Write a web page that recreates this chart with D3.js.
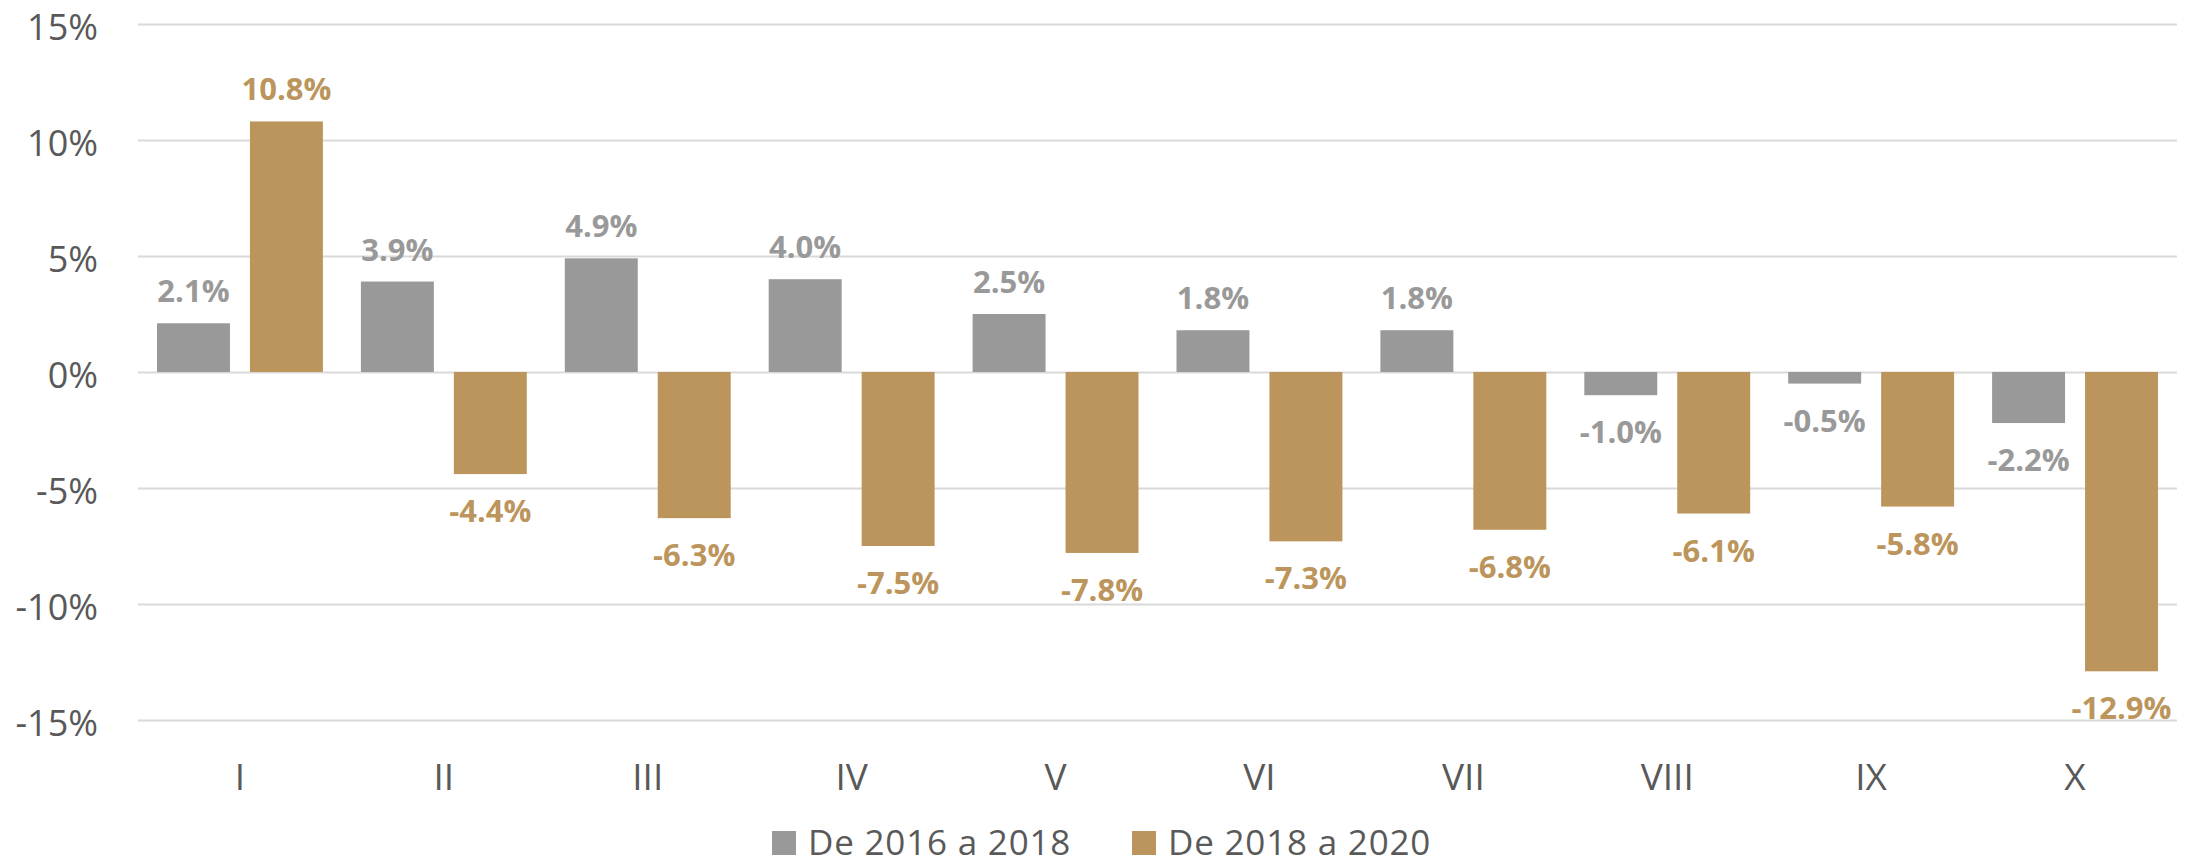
<!DOCTYPE html>
<html>
<head>
<meta charset="utf-8">
<script src="https://cdn.jsdelivr.net/npm/d3@7"></script>
<style>
  body { margin: 0; background: #fff; }
  svg { display: block; font-family: "Open Sans", sans-serif; }
</style>
</head>
<body>
<svg id="svg" width="2195" height="867"></svg>
<script>
var categories = ["I", "II", "III", "IV", "V", "VI", "VII", "VIII", "IX", "X"];
var seriesNames = ["De 2016 a 2018", "De 2018 a 2020"];
var values2016 = [2.1, 3.9, 4.9, 4.0, 2.5, 1.8, 1.8, -1.0, -0.5, -2.2];
var values2018 = [10.8, -4.4, -6.3, -7.5, -7.8, -7.3, -6.8, -6.1, -5.8, -12.9];
var yTicks = [-15, -10, -5, 0, 5, 10, 15];

var colors = ["#999999", "#bc955c"];

var svg = d3.select("#svg");
var plot = {left: 138, right: 2177, top: 24, bottom: 720};

var data = categories.map(function(c, i) {
  return {cat: c, vals: [values2016[i], values2018[i]]};
});

var yScale = d3.scaleLinear()
  .domain([-15, 15])
  .range([plot.bottom, plot.top]);

var xScale = d3.scaleBand()
  .domain(categories)
  .range([plot.left, plot.right])
  .padding(0);

var xInner = d3.scaleBand()
  .domain([0, 1])
  .range([19, xScale.bandwidth() - 19])
  .paddingInner(0.215);

// grid
svg.append("g")
  .attr("class", "grid")
  .attr("transform", "translate(" + plot.left + ",0)")
  .call(d3.axisLeft(yScale).tickValues(yTicks).tickSize(-(plot.right - plot.left)).tickFormat(""))
  .call(function(g) {
    g.select(".domain").remove();
    g.selectAll("line").attr("stroke", "#d9d9d9").attr("stroke-width", 2);
  });

// y labels
svg.append("g")
  .attr("class", "yAxis")
  .attr("transform", "translate(98,0)")
  .call(d3.axisLeft(yScale).tickValues(yTicks).tickSize(0).tickPadding(0)
    .tickFormat(function(d) { return d + "%"; }))
  .call(function(g) {
    g.select(".domain").remove();
    g.selectAll("text")
      .attr("fill", "#595959")
      .attr("font-size", 36)
      .attr("font-family", "Open Sans, sans-serif")
      .attr("dy", "0.42em");
  });

// x labels
svg.append("g")
  .attr("class", "xAxis")
  .attr("transform", "translate(0,790)")
  .call(d3.axisBottom(xScale).tickSize(0).tickPadding(0))
  .call(function(g) {
    g.select(".domain").remove();
    g.selectAll("text")
      .attr("fill", "#595959")
      .attr("font-size", 37)
      .attr("font-family", "Open Sans, sans-serif")
      .attr("dy", 0);
  });

// bars
var groups = svg.append("g").selectAll("g").data(data).enter()
  .append("g")
  .attr("transform", function(d) { return "translate(" + xScale(d.cat) + ",0)"; });

var cells = groups.selectAll("g").data(function(d) {
  return d.vals.map(function(v, j) { return {v: v, s: j}; });
}).enter().append("g");

cells.append("rect")
  .attr("x", function(d) { return xInner(d.s); })
  .attr("width", xInner.bandwidth())
  .attr("y", function(d) { return yScale(Math.max(0, d.v)); })
  .attr("height", function(d) { return Math.abs(yScale(d.v) - yScale(0)); })
  .attr("fill", function(d) { return colors[d.s]; });

cells.append("text")
  .attr("x", function(d) { return xInner(d.s) + xInner.bandwidth() / 2; })
  .attr("y", function(d) { return d.v >= 0 ? yScale(d.v) - 21 : yScale(d.v) + 48; })
  .attr("text-anchor", "middle")
  .attr("font-size", 31)
  .attr("font-weight", 700)
  .attr("fill", function(d) { return colors[d.s]; })
  .text(function(d) { return d.v.toFixed(1) + "%"; });

// legend
var legendX = [772, 1132];
var legend = svg.append("g").selectAll("g").data(seriesNames).enter()
  .append("g")
  .attr("transform", function(d, i) { return "translate(" + legendX[i] + ",831)"; });

legend.append("rect")
  .attr("width", 24)
  .attr("height", 24)
  .attr("fill", function(d, i) { return colors[i]; });

legend.append("text")
  .attr("x", 36)
  .attr("y", 24)
  .attr("font-size", 35)
  .attr("letter-spacing", 0.8)
  .attr("fill", "#595959")
  .text(function(d) { return d; });
</script>
</body>
</html>
